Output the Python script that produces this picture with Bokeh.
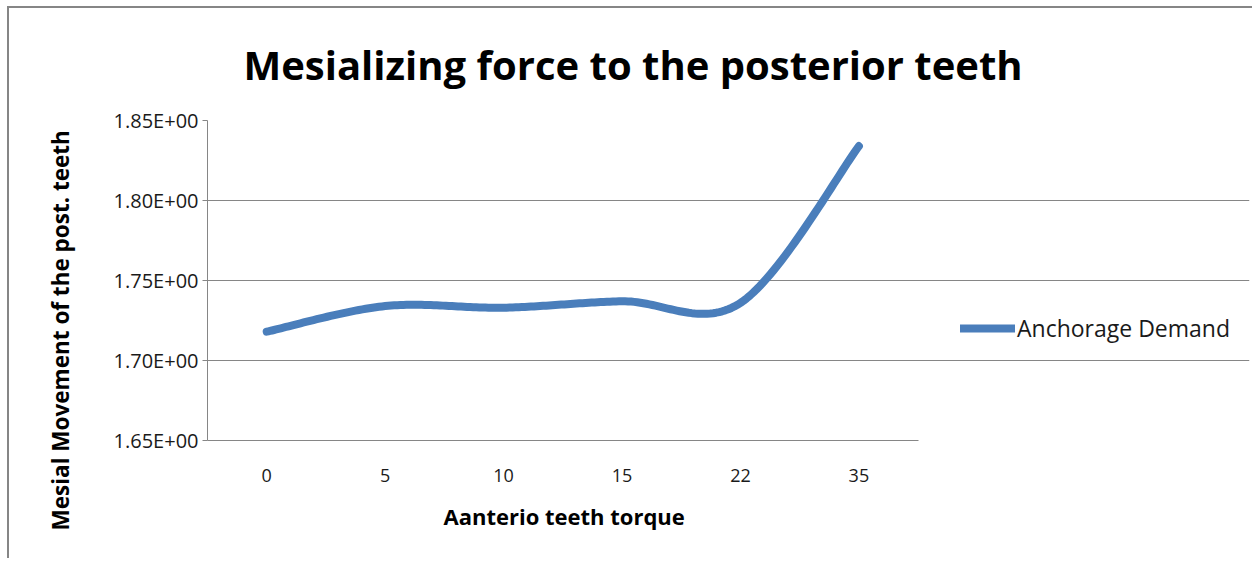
import numpy as np
from bokeh.plotting import figure
from bokeh.models import (Range1d, FixedTicker, CustomJSTickFormatter, Legend,
                          LegendItem, Title, ColumnDataSource)
from bokeh.embed import file_html
from bokeh.resources import INLINE

# ---- data ----
categories = ["0", "5", "10", "15", "22", "35"]
anchorage_demand = [1.718, 1.734, 1.733, 1.737, 1.736, 1.834]
y_ticks = [1.65, 1.70, 1.75, 1.80, 1.85]
title_text = "Mesializing force to the posterior teeth"
x_label = "Aanterio teeth torque"
y_label = "Mesial Movement of the post. teeth"
series_name = "Anchorage Demand"


def excel_smooth(xs, ys, n=40):
    pts = np.column_stack([xs, ys]).astype(float)
    N = len(pts)
    out = []
    t = np.linspace(0, 1, n)[:, None]
    for i in range(N - 1):
        p0 = pts[i - 1] if i > 0 else pts[i]
        p1 = pts[i]
        p2 = pts[i + 1]
        p3 = pts[i + 2] if i + 2 < N else pts[i + 1]
        c1 = p1 + (p2 - p0) / 6.0
        c2 = p2 - (p3 - p1) / 6.0
        seg = (1 - t) ** 3 * p1 + 3 * (1 - t) ** 2 * t * c1 + 3 * (1 - t) * t ** 2 * c2 + t ** 3 * p2
        out.append(seg if i == 0 else seg[1:])
    return np.vstack(out)


xs = list(range(len(categories)))
curve = excel_smooth(xs, anchorage_demand)
src = ColumnDataSource(dict(x=curve[:, 0], y=curve[:, 1]))

FONT = "Open Sans"
GRAY = "#868686"
BLUE = "#4a7ebb"

# layout (pixels)
W, H = 1245, 552
LEFT, TOP, RIGHT, BOTTOM = 196, 112, 5, 120
PLOT_W = 712                      # width of the visible plot area
FRAME_W = W - LEFT - RIGHT        # frame extends right to host the legend
n = len(categories)
x_start = -0.5
x_end = x_start + n * FRAME_W / PLOT_W

p = figure(width=W, height=H, output_backend="svg", toolbar_location=None,
           x_range=Range1d(x_start, x_end),
           y_range=Range1d(y_ticks[0], y_ticks[-1]),
           min_border_left=LEFT, min_border_top=TOP, min_border_right=RIGHT,
           min_border_bottom=BOTTOM)
p.styles = {"border-top": f"2px solid {GRAY}", "border-left": f"2px solid {GRAY}",
            "margin-left": "7px", "margin-top": "6px"}
p.outline_line_color = None
p.background_fill_color = "white"
p.border_fill_color = "white"

r = p.line("x", "y", source=src, line_color=BLUE, line_width=8, line_cap="round",
           line_join="round")

# axes
p.xaxis.ticker = FixedTicker(ticks=xs)
p.xaxis.bounds = (x_start, n - 0.5)
p.xaxis.major_label_overrides = {i: c for i, c in enumerate(categories)}
p.xaxis.axis_line_color = GRAY
p.xaxis.major_tick_line_color = None
p.xaxis.minor_tick_line_color = None
p.xaxis.major_label_standoff = 22
p.xaxis.major_label_text_font = FONT
p.xaxis.major_label_text_font_size = "18px"
p.xaxis.major_label_text_color = "#1a1a1a"

p.yaxis.ticker = FixedTicker(ticks=y_ticks)
p.yaxis.formatter = CustomJSTickFormatter(code="""
    const s = tick.toExponential(2);
    const parts = s.split('e');
    const sign = parts[1][0];
    const d = parts[1].slice(1).padStart(2, '0');
    return parts[0] + 'E' + sign + d;
""")
p.yaxis.axis_line_color = GRAY
p.yaxis.major_tick_line_color = GRAY
p.yaxis.major_tick_out = 5
p.yaxis.major_tick_in = 0
p.yaxis.minor_tick_line_color = None
p.yaxis.major_label_standoff = 4
p.yaxis.major_label_text_font = FONT
p.yaxis.major_label_text_font_size = "20px"
p.yaxis.major_label_text_color = "#1a1a1a"

p.xgrid.grid_line_color = None
p.ygrid.grid_line_color = GRAY
p.ygrid.grid_line_width = 1
p.ygrid.bounds = (x_start, n - 0.5)

# titles: chart title above, axis titles as side titles
p.add_layout(Title(text=title_text, align="left", offset=36, text_font=FONT,
                   text_font_style="bold", text_font_size="40px",
                   text_color="black", vertical_align="top", standoff=54), "above")
p.add_layout(Title(text=y_label, align="left", offset=-90, text_font=FONT,
                   text_font_style="bold", text_font_size="22.5px",
                   text_color="black", vertical_align="middle", standoff=68), "left")
p.add_layout(Title(text=x_label, align="left", offset=236, text_font=FONT,
                   text_font_style="bold", text_font_size="22px",
                   text_color="black", vertical_align="top", standoff=32), "below")

legend = Legend(items=[LegendItem(label=series_name, renderers=[r])],
                location=(753, 96), glyph_width=55, glyph_height=20,
                label_standoff=2, padding=0, margin=0, border_line_color=None,
                background_fill_alpha=0, label_text_font=FONT,
                label_text_font_size="23px", label_text_color="#1a1a1a")
p.add_layout(legend)

open("out.html", "w").write(file_html(p, INLINE))
